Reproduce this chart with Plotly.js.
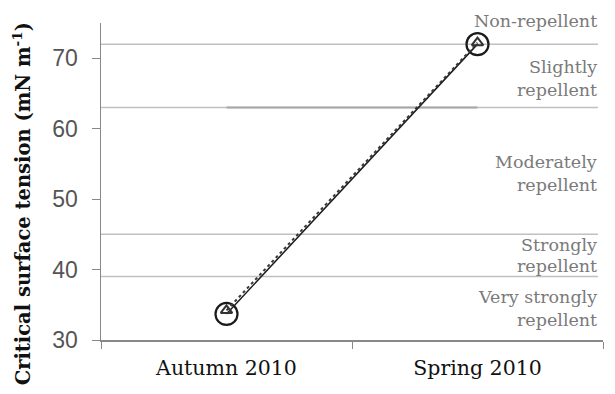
<!DOCTYPE html>
<html>
<head>
<meta charset="utf-8">
<script src="https://cdn.plot.ly/plotly-3.0.1.min.js"></script>
<style>html,body{margin:0;padding:0;background:#fff;}#chart{width:615px;height:394px;}</style>
</head>
<body>
<div id="chart"></div>
<script>
// Data
var seasons = ["Autumn 2010", "Spring 2010"];
var seriesCircle = [33.7, 72.0];
var seriesTriangle = [34.2, 72.2];
var zoneBounds = [72, 63, 45, 39];
var zoneLabels = [
  ["Non-repellent"],
  ["Slightly", "repellent"],
  ["Moderately", "repellent"],
  ["Strongly", "repellent"],
  ["Very strongly", "repellent"]
];
var yTicks = [30, 40, 50, 60, 70];

// Layout: y (axis units) of the centre of each label line
var labelLineY = [[75.3], [68.8, 65.5], [55.3, 52.0], [43.5, 40.5], [36.1, 32.85]];
var yMin = 30, yMax = 75;
function toPaper(v) { return (v - yMin) / (yMax - yMin); }

var traces = [
  {x: seasons, y: [zoneBounds[1], zoneBounds[1]], mode: "lines", type: "scatter",
   line: {color: "#a6a6a6", width: 2}, hoverinfo: "skip", showlegend: false},
  {x: seasons, y: seriesCircle, mode: "lines+markers", type: "scatter",
   line: {color: "#1a1a1a", width: 1.5},
   marker: {symbol: "circle-open", size: 22, color: "#1a1a1a", line: {width: 2.2}},
   showlegend: false},
  {x: seasons, y: seriesTriangle, mode: "lines+markers", type: "scatter",
   line: {color: "#3a3a3a", width: 2, dash: "dot"},
   marker: {symbol: "triangle-up-open", size: 10, color: "#333333", line: {width: 2}},
   showlegend: false}
];

var shapes = zoneBounds.map(function (b) {
  return {type: "line", xref: "x", yref: "y", x0: -0.5, x1: 1.48, y0: b, y1: b,
          line: {color: "#c0c0c0", width: 1.5}, layer: "below"};
});

var annotations = [];
zoneLabels.forEach(function (lines, i) {
  lines.forEach(function (t, j) {
    annotations.push({text: t, xref: "x", yref: "paper", x: 1.485, y: toPaper(labelLineY[i][j]),
      xanchor: "right", yanchor: "middle", showarrow: false,
      font: {family: "DejaVu Serif", size: 17.5, color: "#7a7a7a"}});
  });
});
annotations.push({text: "Critical surface tension (mN m<sup>-1</sup>)", textangle: -90,
  xref: "paper", yref: "paper", x: -0.158, y: 0.43, xanchor: "center", yanchor: "middle",
  showarrow: false, font: {family: "DejaVu Serif", size: 19.5, color: "#111", weight: "bold"}});

var layout = {
  width: 615, height: 394,
  margin: {l: 101, r: 12, t: 23, b: 54},
  paper_bgcolor: "#fff", plot_bgcolor: "#fff",
  showlegend: false,
  xaxis: {type: "category", range: [-0.5, 1.5], tickson: "boundaries",
    ticks: "outside", ticklen: 7, tickcolor: "#888", showline: true, linecolor: "#888",
    linewidth: 1.5, showgrid: false, zeroline: false, ticklabelstandoff: 9,
    tickfont: {family: "DejaVu Serif", size: 20.5, color: "#111"}},
  yaxis: {range: [yMin, yMax], tickvals: yTicks, ticks: "outside", ticklen: 8,
    tickcolor: "#888", showline: true, linecolor: "#888", linewidth: 1.5,
    showgrid: false, zeroline: false, ticklabelstandoff: 9,
    tickfont: {family: "Liberation Sans", size: 23, color: "#555"}},
  shapes: shapes,
  annotations: annotations
};

Plotly.newPlot("chart", traces, layout, {displayModeBar: false, staticPlot: true});
</script>
</body>
</html>
